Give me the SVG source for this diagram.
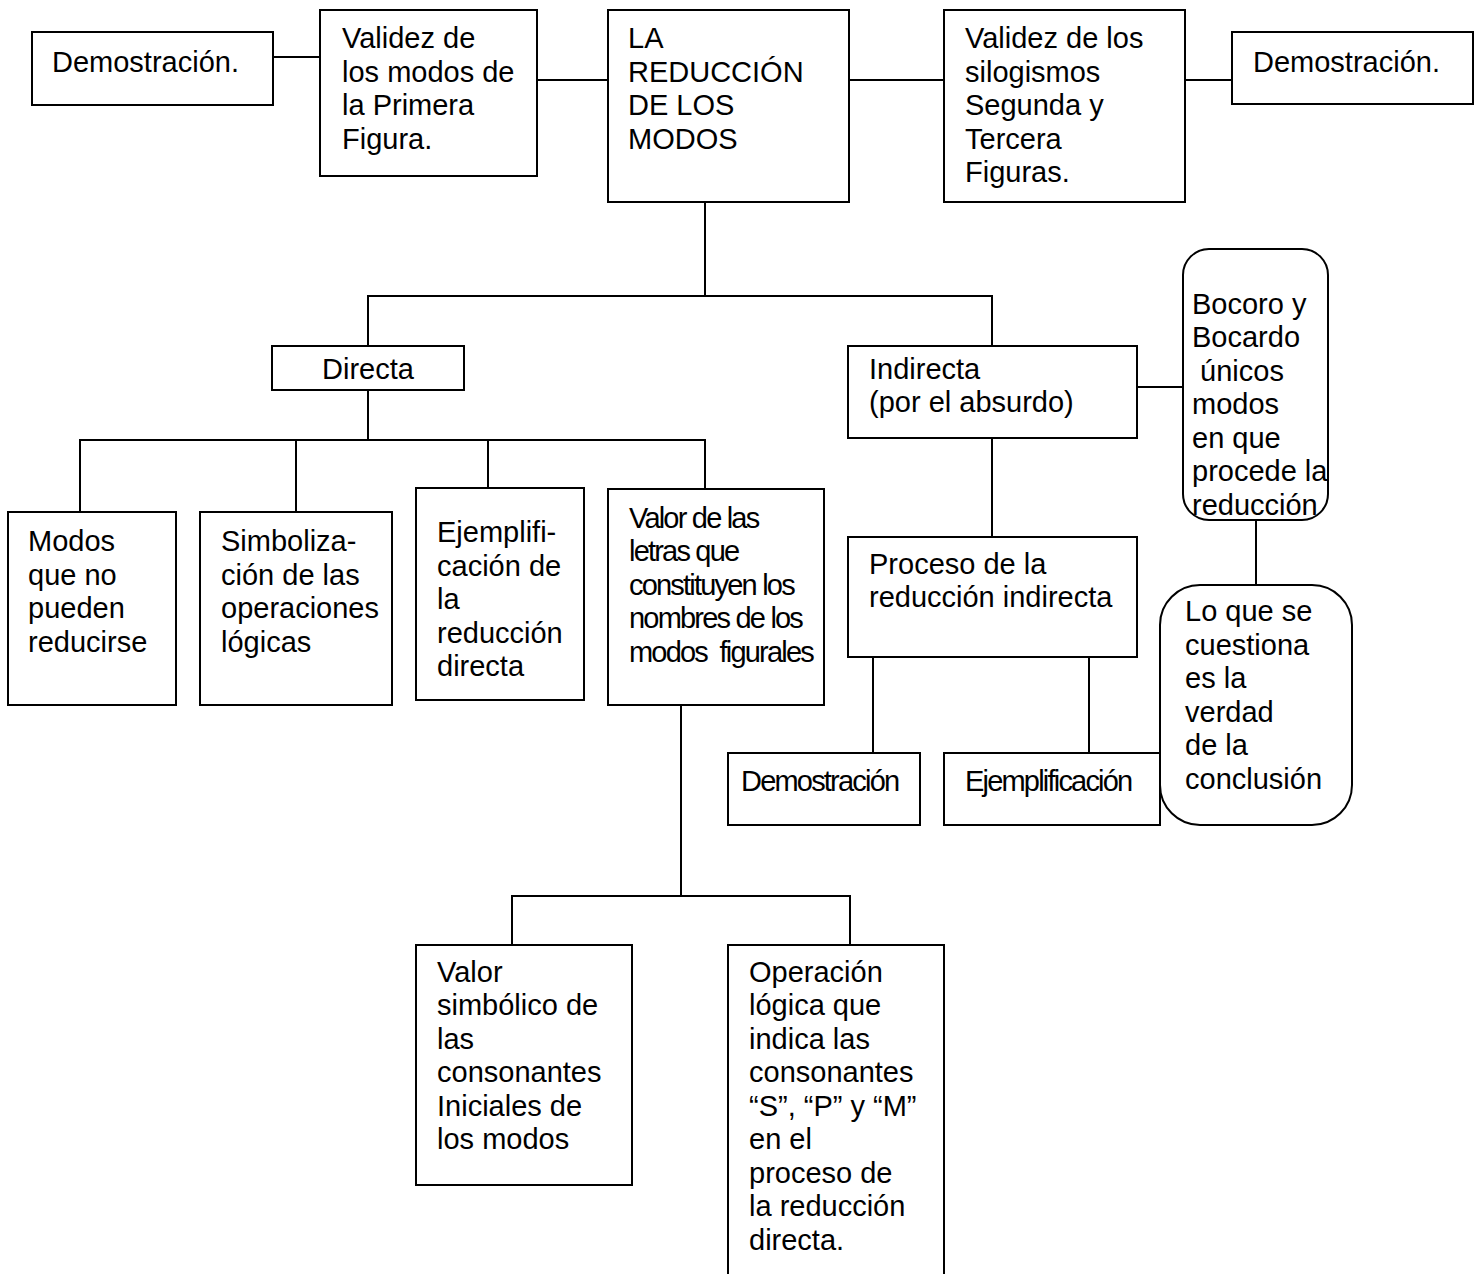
<svg xmlns="http://www.w3.org/2000/svg" width="1478" height="1274" viewBox="0 0 1478 1274">
<style>
rect{fill:#fff;stroke:#000;stroke-width:2}
#connectors line{stroke:#000;stroke-width:2}
text{font-family:"Liberation Sans",Arial,sans-serif;font-size:29px;fill:#000}
.n{letter-spacing:-1.8px}
.pre{white-space:pre}
</style>
<rect x="0" y="0" width="1478" height="1274" style="stroke:none"/>
<g id="connectors">
<line x1="273" y1="57" x2="320" y2="57"/>
<line x1="537" y1="80" x2="608" y2="80"/>
<line x1="849" y1="80" x2="944" y2="80"/>
<line x1="1185" y1="80" x2="1232" y2="80"/>
<line x1="705" y1="202" x2="705" y2="296"/>
<line x1="367" y1="296" x2="993" y2="296"/>
<line x1="368" y1="296" x2="368" y2="346"/>
<line x1="992" y1="296" x2="992" y2="346"/>
<line x1="1137" y1="387" x2="1183" y2="387"/>
<line x1="1256" y1="520" x2="1256" y2="585"/>
<line x1="368" y1="390" x2="368" y2="440"/>
<line x1="79" y1="440" x2="706" y2="440"/>
<line x1="80" y1="440" x2="80" y2="512"/>
<line x1="296" y1="440" x2="296" y2="512"/>
<line x1="488" y1="440" x2="488" y2="488"/>
<line x1="705" y1="440" x2="705" y2="489"/>
<line x1="992" y1="438" x2="992" y2="537"/>
<line x1="873" y1="657" x2="873" y2="753"/>
<line x1="1089" y1="657" x2="1089" y2="753"/>
<line x1="681" y1="705" x2="681" y2="896"/>
<line x1="511" y1="896" x2="851" y2="896"/>
<line x1="512" y1="896" x2="512" y2="945"/>
<line x1="850" y1="896" x2="850" y2="945"/>
</g>
<g id="demo-left"><rect x="32" y="32" width="241" height="73"/><text x="52" y="72">Demostración.</text></g>
<g id="validez-primera"><rect x="320" y="10" width="217" height="166"/>
<text x="342" y="48">Validez de</text><text x="342" y="82">los modos de</text><text x="342" y="115">la Primera</text><text x="342" y="149">Figura.</text></g>
<g id="reduccion"><rect x="608" y="10" width="241" height="192"/>
<text x="628" y="48">LA</text><text x="628" y="82">REDUCCIÓN</text><text x="628" y="115">DE LOS</text><text x="628" y="149">MODOS</text></g>
<g id="validez-segunda"><rect x="944" y="10" width="241" height="192"/>
<text x="965" y="48">Validez de los</text><text x="965" y="82">silogismos</text><text x="965" y="115">Segunda y</text><text x="965" y="149">Tercera</text><text x="965" y="182">Figuras.</text></g>
<g id="demo-right"><rect x="1232" y="32" width="241" height="72"/><text x="1253" y="72">Demostración.</text></g>
<g id="directa"><rect x="272" y="346" width="192" height="44"/><text x="368" y="379" text-anchor="middle">Directa</text></g>
<g id="indirecta"><rect x="848" y="346" width="289" height="92"/><text x="869" y="379">Indirecta</text><text x="869" y="412">(por el absurdo)</text></g>
<g id="bocoro"><rect x="1183" y="249" width="145" height="271" rx="26" ry="26"/>
<text x="1192" y="314">Bocoro y</text><text x="1192" y="347">Bocardo</text><text x="1192" y="381" class="pre"> únicos</text><text x="1192" y="414">modos</text><text x="1192" y="448">en que</text><text x="1192" y="481">procede la</text><text x="1192" y="515">reducción</text></g>
<g id="cuestiona"><rect x="1160" y="585" width="192" height="240" rx="40" ry="40"/>
<text x="1185" y="621">Lo que se</text><text x="1185" y="655">cuestiona</text><text x="1185" y="688">es la</text><text x="1185" y="722">verdad</text><text x="1185" y="755">de la</text><text x="1185" y="789">conclusión</text></g>
<g id="modos"><rect x="8" y="512" width="168" height="193"/>
<text x="28" y="551">Modos</text><text x="28" y="585">que no</text><text x="28" y="618">pueden</text><text x="28" y="652">reducirse</text></g>
<g id="simbolizacion"><rect x="200" y="512" width="192" height="193"/>
<text x="221" y="551">Simboliza-</text><text x="221" y="585">ción de las</text><text x="221" y="618">operaciones</text><text x="221" y="652">lógicas</text></g>
<g id="ejemplificacion-directa"><rect x="416" y="488" width="168" height="212"/>
<text x="437" y="542">Ejemplifi-</text><text x="437" y="576">cación de</text><text x="437" y="609">la</text><text x="437" y="643">reducción</text><text x="437" y="676">directa</text></g>
<g id="valor-letras"><rect x="608" y="489" width="216" height="216"/>
<text class="n" x="629" y="528">Valor de las</text><text class="n" x="629" y="561">letras que</text><text class="n" x="629" y="595">constituyen los</text><text class="n" x="629" y="628">nombres de los</text><text class="n pre" x="629" y="662">modos  figurales</text></g>
<g id="proceso"><rect x="848" y="537" width="289" height="120"/>
<text x="869" y="574">Proceso de la</text><text x="869" y="607">reducción indirecta</text></g>
<g id="demo-indirecta"><rect x="728" y="753" width="192" height="72"/><text class="n" x="741" y="791">Demostración</text></g>
<g id="ejemplo-indirecta"><rect x="944" y="753" width="216" height="72"/><text class="n" x="965" y="791">Ejemplificación</text></g>
<g id="valor-simbolico"><rect x="416" y="945" width="216" height="240"/>
<text x="437" y="982">Valor</text><text x="437" y="1015">simbólico de</text><text x="437" y="1049">las</text><text x="437" y="1082">consonantes</text><text x="437" y="1116">Iniciales de</text><text x="437" y="1149">los modos</text></g>
<g id="operacion"><rect x="728" y="945" width="216" height="345"/>
<text x="749" y="982">Operación</text><text x="749" y="1015">lógica que</text><text x="749" y="1049">indica las</text><text x="749" y="1082">consonantes</text><text x="749" y="1116">“S”, “P” y “M”</text><text x="749" y="1149">en el</text><text x="749" y="1183">proceso de</text><text x="749" y="1216">la reducción</text><text x="749" y="1250">directa.</text></g>
</svg>
